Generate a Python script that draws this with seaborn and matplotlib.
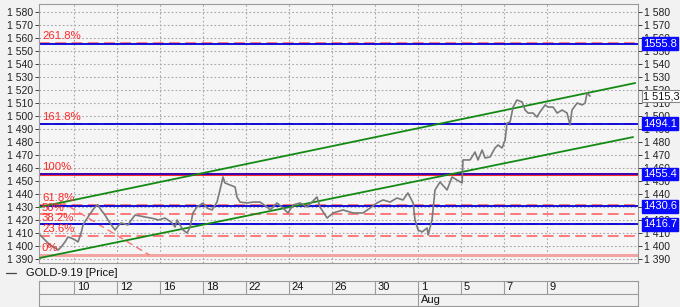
import matplotlib
matplotlib.use("Agg")
import matplotlib.pyplot as plt
import matplotlib.transforms as mtransforms
import seaborn as sns

# ---------------- data ----------------
# trading-day index (2 = Jul 10, 18 = Aug 1, 24 = Aug 9)
t = [0.42, 0.65, 0.88, 1.12, 1.26, 1.40, 1.58, 1.72, 1.86, 2.05, 2.19, 2.33, 2.42, 2.56,
     2.65, 2.84, 2.98, 3.12, 3.26, 3.44, 3.58, 3.77, 3.91, 4.05, 4.19, 4.37, 4.51, 4.70,
     4.84, 5.07, 5.30, 5.58, 5.77, 5.91, 6.23, 6.51, 6.70, 6.79, 7.07, 7.26, 7.40, 7.53,
     7.72, 8.00, 8.19, 8.42, 8.65, 8.79, 8.93, 9.02, 9.26, 9.49, 9.58, 9.72, 10.05, 10.33,
     10.65, 10.98, 11.12, 11.44, 11.72, 11.95, 12.19, 12.51, 12.84, 13.30, 13.44, 13.77,
     14.05, 14.51, 14.98, 15.44, 15.77, 16.09, 16.37, 16.70, 17.02, 17.30, 17.53, 17.77,
     17.86, 18.00, 18.19, 18.42, 18.47, 18.65, 18.79, 19.02, 19.35, 19.58, 19.81, 20.05,
     20.09, 20.42, 20.65, 20.79, 20.98, 21.12, 21.35, 21.58, 21.72, 21.91, 22.05, 22.14,
     22.28, 22.42, 22.60, 22.84, 22.98, 23.12, 23.35, 23.53, 23.67, 23.91, 24.05, 24.28,
     24.47, 24.70, 24.93, 25.07, 25.16, 25.40, 25.63, 25.77, 25.86, 26.00]
price = [1408.5, 1404.6, 1400.8, 1398.5, 1396.9, 1399.2, 1403.1, 1406.9, 1406.2, 1404.6,
         1403.1, 1410.0, 1416.2, 1420.0, 1422.3, 1426.9, 1430.0, 1431.5, 1427.7, 1423.8,
         1420.0, 1415.4, 1412.3, 1415.4, 1417.7, 1416.9, 1416.2, 1420.8, 1423.8, 1423.1,
         1422.3, 1421.5, 1420.8, 1420.0, 1421.5, 1418.5, 1414.6, 1420.0, 1412.3, 1410.0,
         1414.6, 1425.4, 1430.0, 1433.1, 1429.2, 1427.7, 1433.8, 1443.1, 1453.1, 1448.5,
         1446.9, 1445.4, 1437.7, 1433.8, 1433.1, 1433.8, 1433.8, 1430.0, 1427.7, 1433.1,
         1429.2, 1425.4, 1431.5, 1433.1, 1430.0, 1437.7, 1430.0, 1421.5, 1425.4, 1427.7,
         1425.4, 1425.4, 1429.2, 1433.1, 1435.4, 1433.8, 1436.9, 1435.4, 1440.8, 1433.1,
         1420.0, 1412.3, 1410.8, 1413.8, 1408.5, 1420.0, 1443.1, 1449.2, 1443.1, 1453.1,
         1450.8, 1448.5, 1466.2, 1466.2, 1472.3, 1466.2, 1473.8, 1467.7, 1468.5, 1475.4,
         1477.7, 1475.4, 1481.5, 1494.6, 1495.4, 1506.9, 1512.3, 1510.8, 1504.6, 1502.3,
         1502.3, 1499.2, 1503.1, 1508.5, 1506.9, 1506.9, 1502.3, 1504.6, 1502.3, 1493.1,
         1504.6, 1510.0, 1508.5, 1510.0, 1517.7, 1515.3]

x_tick_pos = [2, 4, 6, 8, 10, 12, 14, 16, 18, 20, 22, 24]
x_tick_labels = ["10", "12", "16", "18", "22", "24", "26", "30", "1", "5", "7", "9"]
month_pos = 18
month_label = "Aug"

fib_labels = ["261.8%", "161.8%", "100%", "61.8%", "50%", "38.2%", "23.6%", "0%"]
fib_values = [1556.2, 1493.9, 1455.4, 1431.6, 1424.3, 1416.9, 1407.8, 1393.1]

level_values = [1555.8, 1494.1, 1455.4, 1430.6, 1416.7]
last_price = 1515.3
last_price_label = "1 515,3"

upper_t = [0.42, 28.1]
upper_v = [1430.0, 1525.4]
lower_t = [0.42, 28.0]
lower_v = [1390.8, 1483.8]
diag_t = [1.35, 5.5]
diag_v = [1434.6, 1393.1]

y_ticks = list(range(1390, 1590, 10))
series_name = "GOLD-9.19 [Price]"

# ---------------- style ----------------
sns.set_theme(style="white")
plt.rcParams["font.family"] = ["Liberation Sans", "DejaVu Sans"]
FS = 7.5
BG = "#f2f2f2"
RED = "#ff2a2a"
BLUE = "#0000dd"
GREEN = "#138a13"

fig = plt.figure(figsize=(6.8, 3.07), dpi=100, facecolor=BG)
ax = fig.add_axes([39 / 680, 44 / 307, 599 / 680, 259 / 307], facecolor="#f5f5f5")

xlim = (0.372, 28.23)
ylim = (1386.9, 1586.2)

def fmt(v):
    return f"{v // 1000} {v % 1000:03d}"

# grid
for yv in y_ticks:
    ax.axhline(yv, color="#a8a8a8", lw=0.8, ls=(0, (1.5, 2)), zorder=0)
for xv in x_tick_pos:
    ax.axvline(xv, color="#a8a8a8", lw=0.8, ls=(0, (1.5, 2)), zorder=0)

# fibonacci lines (red)
for lab, v in zip(fib_labels, fib_values):
    if lab == "0%":
        ax.axhline(v, color="#f4a3a3", lw=2.2, zorder=1)
    elif lab == "100%":
        ax.axhline(v, color=RED, lw=2.2, zorder=1)
    else:
        ax.axhline(v, color="#ff7070", lw=1.3, ls=(0, (6, 3)), zorder=1)
    ax.text(0.51, v + 5.0, lab, color=RED, fontsize=FS + 0.7, ha="left", va="center", zorder=5)

ax.plot(diag_t, diag_v, color="#ff7070", lw=1.0, ls=(0, (5, 3)), zorder=1)

# horizontal blue levels
for v in level_values:
    ax.axhline(v, color=BLUE, lw=1.3, alpha=0.85 if v == 1455.4 else 1.0, zorder=2)

# trend channel
ax.plot(upper_t, upper_v, color=GREEN, lw=1.3, zorder=3)
ax.plot(lower_t, lower_v, color=GREEN, lw=1.3, zorder=3)

# price
sns.lineplot(x=t, y=price, ax=ax, color="#7a7a7a", lw=1.2, estimator=None, sort=False, zorder=4)

ax.set_xlim(*xlim)
ax.set_ylim(*ylim)
ax.set_xticks([])
ax.set_yticks(y_ticks)
ax.set_yticklabels([fmt(v) for v in y_ticks], fontsize=FS)
ax.tick_params(axis="y", direction="out", length=3, pad=1.5, colors="#222222", width=0.6)
ax.set_xlabel("")
ax.set_ylabel("")
for s in ax.spines.values():
    s.set_color("#9a9a9a")
    s.set_linewidth(0.8)

axr = ax.twinx()
axr.set_ylim(*ylim)
axr.set_yticks(y_ticks)
axr.set_yticklabels([fmt(v) for v in y_ticks], fontsize=FS)
axr.tick_params(axis="y", direction="out", length=3, pad=1.5, colors="#222222", width=0.6)
axr.grid(False)
for s in axr.spines.values():
    s.set_visible(False)

# right-hand value boxes (drawn above the right tick labels)
trans = mtransforms.blended_transform_factory(axr.transAxes, axr.transData)
for v in level_values:
    axr.text(1.0085, v, f"{v:.1f}", transform=trans, ha="left", va="center", fontsize=8,
             color="white", clip_on=False, zorder=10,
             bbox=dict(boxstyle="square,pad=0.12", fc="#0a0aff", ec="#0a0aff"))
axr.text(1.0085, last_price, last_price_label, transform=trans, ha="left", va="center",
         fontsize=7.8, color="#111111", clip_on=False, zorder=10,
         bbox=dict(boxstyle="square,pad=0.1", fc="white", ec="#888888", lw=0.8))

# legend row
fig.lines.append(plt.Line2D([6 / 680, 16 / 680], [1 - 273 / 307, 1 - 273 / 307],
                            color="#444444", lw=0.9, transform=fig.transFigure))
fig.text(26 / 680, 1 - 273 / 307, series_name, fontsize=FS + 0.5, ha="left", va="center", color="#111111")

# date axis box
axd = fig.add_axes([39 / 680, 1 / 307, 599 / 680, 25 / 307], facecolor=BG)
axd.set_xlim(*xlim)
axd.set_ylim(0, 2)
axd.set_xticks([])
axd.set_yticks([])
for s in axd.spines.values():
    s.set_color("#9a9a9a")
    s.set_linewidth(0.8)
axd.axhline(0.96, color="#9a9a9a", lw=0.8)
for xv, lab in zip(x_tick_pos, x_tick_labels):
    axd.plot([xv, xv], [0.96, 2], color="#9a9a9a", lw=0.8)
    axd.text(xv + 0.13, 1.48, lab, fontsize=FS + 0.5, ha="left", va="center", color="#111111")
axd.plot([month_pos, month_pos], [0, 0.96], color="#9a9a9a", lw=0.8)
axd.text(month_pos + 0.13, 0.48, month_label, fontsize=FS + 0.5, ha="left", va="center", color="#111111")

fig.savefig("out.png", dpi=100, facecolor=BG)
